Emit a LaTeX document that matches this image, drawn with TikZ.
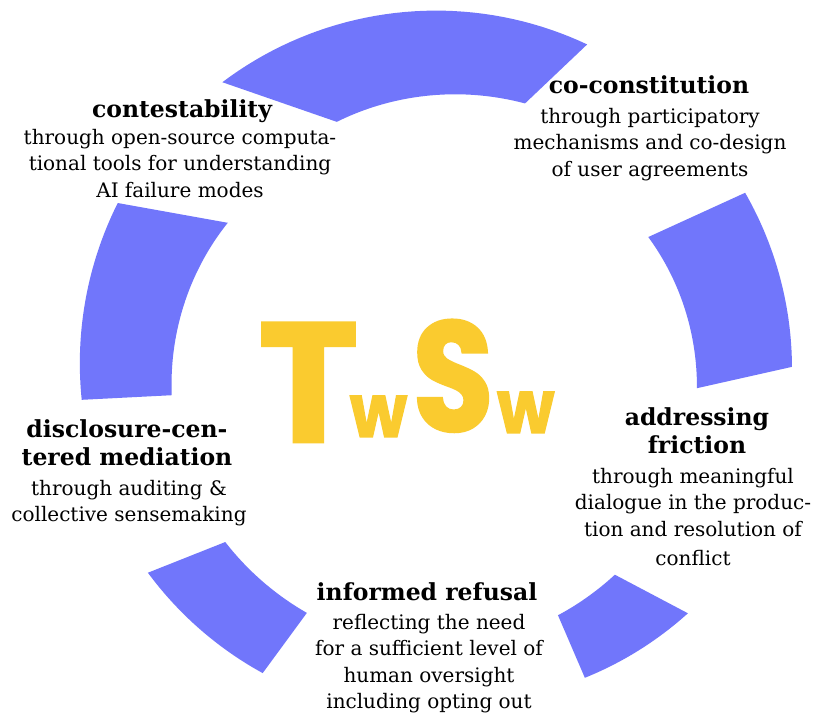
\documentclass[tikz,border=0pt]{standalone}
\usepackage{fontspec}
\usepackage{graphicx}
\setmainfont{DejaVu Serif}
\newfontfamily\twfont{Poppins}[BoldFeatures={FakeBold=1.5}]
\definecolor{ringblue}{RGB}{113,118,251}
\definecolor{twyellow}{RGB}{250,203,47}
\newcommand\ringseg[8]{%
  \fill[seg] plot[domain=#1:#3, samples=40, variable=\t] (\t:{#2+(#4-#2)*(\t-(#1))/((#3)-(#1))})
    -- plot[domain=#5:#7, samples=40, variable=\t] (\t:{#6+(#8-#6)*(\t-(#5))/((#7)-(#5))}) -- cycle;}
\newcommand\smallw{\scalebox{0.9}[1]{\fontsize{74}{74}\selectfont w}}
\begin{document}
\begin{tikzpicture}[x=1pt,y=1pt,
  seg/.style={fill=ringblue, draw=none},
  ttl/.style={font=\fontsize{23.5}{28}\selectfont\bfseries, align=center, inner sep=0pt, anchor=north},
  bdy/.style={font=\fontsize{20}{26.5}\selectfont, align=center, inner sep=0pt, anchor=north},
  logo/.style={text=twyellow, inner sep=0pt, anchor=base west}]
\useasboundingbox (0,0) rectangle (817,717);
\fill[white] (0,0) rectangle (817,717);
\begin{scope}[shift={(437,352)}]
  \ringseg{127.2}{355}{64.9}{354}{71.4}{276}{112.4}{263}
  \ringseg{29.2}{353}{-0.3}{355}{-5.1}{261}{31.2}{247}
  \ringseg{153.1}{358}{185.6}{357}{186.5}{267}{145.8}{253}
  \ringseg{215.7}{356}{240.5}{354}{242.3}{280}{219.9}{276}
  \ringseg{295.3}{346}{315.3}{353}{310.3}{275}{295.8}{278}
\end{scope}
\node[logo] (twsw) at (258,275) {\twfont\bfseries\fontsize{170}{170}\selectfont T\kern-9pt\raisebox{5pt}{\smallw}\kern5pt\raisebox{11pt}{\scalebox{0.78}[0.92]{S}}\kern3pt\raisebox{9pt}{\smallw}};
% contestability
\node[ttl] (ctT) at (182,618) {contestability};
\node[bdy] (ctB) at (180,588) {through open-source computa-\\tional tools for understanding\\AI failure modes};
% co-constitution
\node[ttl] (ccT) at (649,642) {co-constitution};
\node[bdy] (ccB) at (650,609) {through participatory\\mechanisms and co-design\\of user agreements};
% disclosure-centered mediation
\node[ttl] (dmT) at (127,298) {disclosure-cen-\\tered mediation};
\node[bdy] (dmB) at (129,237) {through auditing \&\\collective sensemaking};
% addressing friction
\node[ttl] (afT) at (697,310) {addressing\\friction};
\node[bdy] (afB) at (693,249) {through meaningful\\dialogue in the produc-\\tion and resolution of\\[3pt]conflict};
% informed refusal
\node[ttl] (irT) at (427,135) {informed refusal};
\node[bdy] (irB) at (429,103) {reflecting the need\\for a sufficient level of\\human oversight\\including opting out};
\end{tikzpicture}
\end{document}
